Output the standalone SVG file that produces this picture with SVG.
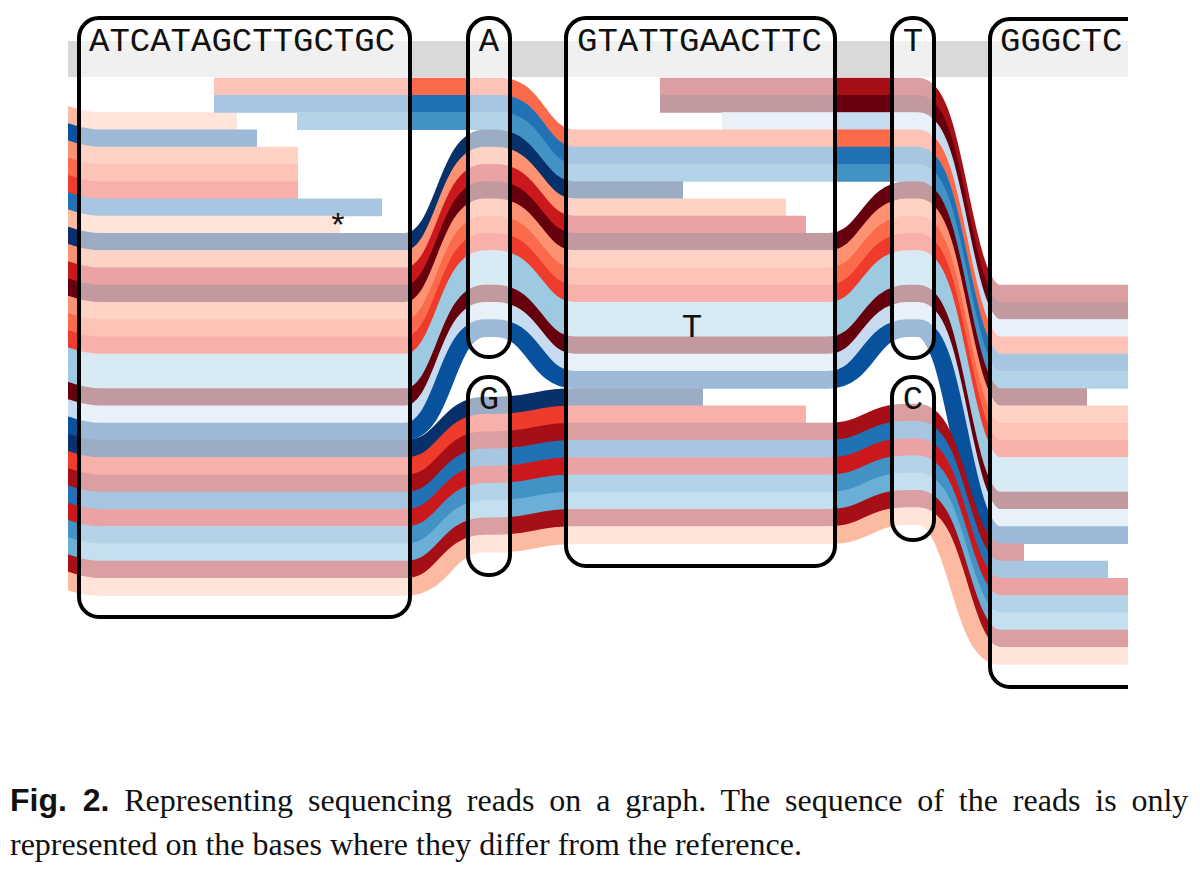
<svg xmlns="http://www.w3.org/2000/svg" width="1200" height="873" viewBox="0 0 1200 873">
<defs>
<clipPath id="clip"><rect x="68" y="0" width="1060" height="720"/></clipPath>
<style>
.r{fill:none;stroke-width:17.8;stroke-linecap:butt;stroke-linejoin:round}
.node{fill:#fff;fill-opacity:0.6;stroke:#000;stroke-width:4}
.lbl{font-family:"Liberation Mono","Courier New",monospace;font-size:34px;fill:#111}
.cap{font-family:"Liberation Serif","Times New Roman",serif;font-size:32px;fill:#111}
</style>
</defs>
<rect width="1200" height="873" fill="#fff"/>
<g clip-path="url(#clip)">
<rect x="68" y="41" width="1060" height="36" fill="#d9d9d9"/>
<g id="reads">
<path class="r" stroke="#a50f15" d="M660,86.63 L918,86.63 C958,86.63 960,293.63 1000,293.63 L1140,293.63"/>
<path class="r" stroke="#67000d" d="M660,103.88 L918,103.88 C958,103.88 960,310.88 1000,310.88 L1140,310.88"/>
<path class="r" stroke="#c6dbef" d="M722,121.13 L918,121.13 C958,121.13 960,328.13 1000,328.13 L1140,328.13"/>
<path class="r" stroke="#fcbba1" d="M40,111.13 C70,111.13 72,121.13 100,121.13 L237,121.13"/>
<path class="r" stroke="#08519c" d="M40,128.38 C70,128.38 72,138.38 100,138.38 L257,138.38"/>
<path class="r" stroke="#fc9272" d="M40,145.63 C70,145.63 72,155.63 100,155.63 L298,155.63"/>
<path class="r" stroke="#fb6a4a" d="M40,162.88 C70,162.88 72,172.88 100,172.88 L298,172.88"/>
<path class="r" stroke="#ef3b2c" d="M40,180.13 C70,180.13 72,190.13 100,190.13 L298,190.13"/>
<path class="r" stroke="#2171b5" d="M40,197.38 C70,197.38 72,207.38 100,207.38 L382,207.38"/>
<path class="r" stroke="#fcbba1" d="M40,214.63 C70,214.63 72,224.63 100,224.63 L340,224.63"/>
<path class="r" stroke="#fb6a4a" d="M214,86.63 L500,86.63 C538,86.63 538,138.38 576,138.38 L918,138.38 C958,138.38 960,345.38 1000,345.38 L1140,345.38"/>
<path class="r" stroke="#2171b5" d="M214,103.88 L500,103.88 C538,103.88 538,155.63 576,155.63 L918,155.63 C958,155.63 960,362.63 1000,362.63 L1140,362.63"/>
<path class="r" stroke="#4292c6" d="M297,121.13 L500,121.13 C538,121.13 538,172.88 576,172.88 L918,172.88 C958,172.88 960,379.88 1000,379.88 L1140,379.88"/>
<path class="r" stroke="#08306b" d="M40,231.88 C70,231.88 72,241.88 100,241.88 L405,241.88 C445,241.88 445,138.38 485,138.38 L495,138.38 C535,138.38 535,190.13 575,190.13 L683,190.13"/>
<path class="r" stroke="#fc9272" d="M40,249.13 C70,249.13 72,259.13 100,259.13 L405,259.13 C445,259.13 445,155.63 485,155.63 L495,155.63 C535,155.63 535,207.38 575,207.38 L786,207.38"/>
<path class="r" stroke="#cb181d" d="M40,266.38 C70,266.38 72,276.38 100,276.38 L405,276.38 C445,276.38 445,172.88 485,172.88 L495,172.88 C535,172.88 535,224.63 575,224.63 L806,224.63"/>
<path class="r" stroke="#67000d" d="M40,283.63 C70,283.63 72,293.63 100,293.63 L405,293.63 C445,293.63 445,190.13 485,190.13 L495,190.13 C535,190.13 535,241.88 575,241.88 L828,241.88 C868,241.88 868,190.13 908,190.13 L918,190.13 C958,190.13 960,397.13 1000,397.13 L1087,397.13"/>
<path class="r" stroke="#fc9272" d="M40,300.88 C70,300.88 72,310.88 100,310.88 L405,310.88 C445,310.88 445,207.38 485,207.38 L495,207.38 C535,207.38 535,259.13 575,259.13 L828,259.13 C868,259.13 868,207.38 908,207.38 L918,207.38 C958,207.38 960,414.38 1000,414.38 L1140,414.38"/>
<path class="r" stroke="#fb6a4a" d="M40,318.13 C70,318.13 72,328.13 100,328.13 L405,328.13 C445,328.13 445,224.63 485,224.63 L495,224.63 C535,224.63 535,276.38 575,276.38 L828,276.38 C868,276.38 868,224.63 908,224.63 L918,224.63 C958,224.63 960,431.63 1000,431.63 L1140,431.63"/>
<path class="r" stroke="#ef3b2c" d="M40,335.38 C70,335.38 72,345.38 100,345.38 L405,345.38 C445,345.38 445,241.88 485,241.88 L495,241.88 C535,241.88 535,293.63 575,293.63 L828,293.63 C868,293.63 868,241.88 908,241.88 L918,241.88 C958,241.88 960,448.88 1000,448.88 L1140,448.88"/>
<path class="r" stroke="#9ecae1" d="M40,352.63 C70,352.63 72,362.63 100,362.63 L405,362.63 C445,362.63 445,259.13 485,259.13 L495,259.13 C535,259.13 535,310.88 575,310.88 L828,310.88 C868,310.88 868,259.13 908,259.13 L918,259.13 C958,259.13 960,466.13 1000,466.13 L1140,466.13"/>
<path class="r" stroke="#9ecae1" d="M40,369.88 C70,369.88 72,379.88 100,379.88 L405,379.88 C445,379.88 445,276.38 485,276.38 L495,276.38 C535,276.38 535,328.13 575,328.13 L828,328.13 C868,328.13 868,276.38 908,276.38 L918,276.38 C958,276.38 960,483.38 1000,483.38 L1140,483.38"/>
<path class="r" stroke="#67000d" d="M40,387.13 C70,387.13 72,397.13 100,397.13 L405,397.13 C445,397.13 445,293.63 485,293.63 L495,293.63 C535,293.63 535,345.38 575,345.38 L828,345.38 C868,345.38 868,293.63 908,293.63 L918,293.63 C958,293.63 960,500.63 1000,500.63 L1140,500.63"/>
<path class="r" stroke="#c6dbef" d="M40,404.38 C70,404.38 72,414.38 100,414.38 L405,414.38 C445,414.38 445,310.88 485,310.88 L495,310.88 C535,310.88 535,362.63 575,362.63 L828,362.63 C868,362.63 868,310.88 908,310.88 L918,310.88 C958,310.88 960,517.88 1000,517.88 L1140,517.88"/>
<path class="r" stroke="#08519c" d="M40,421.63 C70,421.63 72,431.63 100,431.63 L405,431.63 C445,431.63 445,328.13 485,328.13 L495,328.13 C535,328.13 535,379.88 575,379.88 L828,379.88 C868,379.88 868,328.13 908,328.13 L918,328.13 C958,328.13 960,535.13 1000,535.13 L1140,535.13"/>
<path class="r" stroke="#08306b" d="M40,438.88 C70,438.88 72,448.88 100,448.88 L405,448.88 C445,448.88 445,405.63 485,405.63 L495,405.63 C535,405.63 535,397.13 575,397.13 L703,397.13"/>
<path class="r" stroke="#ef3b2c" d="M40,456.13 C70,456.13 72,466.13 100,466.13 L405,466.13 C445,466.13 445,422.88 485,422.88 L495,422.88 C535,422.88 535,414.38 575,414.38 L806,414.38"/>
<path class="r" stroke="#a50f15" d="M40,473.38 C70,473.38 72,483.38 100,483.38 L405,483.38 C445,483.38 445,440.13 485,440.13 L495,440.13 C535,440.13 535,431.63 575,431.63 L828,431.63 C868,431.63 868,412.63 908,412.63 L918,412.63 C958,412.63 960,552.38 1000,552.38 L1024,552.38"/>
<path class="r" stroke="#2171b5" d="M40,490.63 C70,490.63 72,500.63 100,500.63 L405,500.63 C445,500.63 445,457.38 485,457.38 L495,457.38 C535,457.38 535,448.88 575,448.88 L828,448.88 C868,448.88 868,429.88 908,429.88 L918,429.88 C958,429.88 960,569.63 1000,569.63 L1108,569.63"/>
<path class="r" stroke="#cb181d" d="M40,507.88 C70,507.88 72,517.88 100,517.88 L405,517.88 C445,517.88 445,474.63 485,474.63 L495,474.63 C535,474.63 535,466.13 575,466.13 L828,466.13 C868,466.13 868,447.13 908,447.13 L918,447.13 C958,447.13 960,586.88 1000,586.88 L1140,586.88"/>
<path class="r" stroke="#4292c6" d="M40,525.13 C70,525.13 72,535.13 100,535.13 L405,535.13 C445,535.13 445,491.88 485,491.88 L495,491.88 C535,491.88 535,483.38 575,483.38 L828,483.38 C868,483.38 868,464.38 908,464.38 L918,464.38 C958,464.38 960,604.13 1000,604.13 L1140,604.13"/>
<path class="r" stroke="#6baed6" d="M40,542.38 C70,542.38 72,552.38 100,552.38 L405,552.38 C445,552.38 445,509.13 485,509.13 L495,509.13 C535,509.13 535,500.63 575,500.63 L828,500.63 C868,500.63 868,481.63 908,481.63 L918,481.63 C958,481.63 960,621.38 1000,621.38 L1140,621.38"/>
<path class="r" stroke="#a50f15" d="M40,559.63 C70,559.63 72,569.63 100,569.63 L405,569.63 C445,569.63 445,526.38 485,526.38 L495,526.38 C535,526.38 535,517.88 575,517.88 L828,517.88 C868,517.88 868,498.88 908,498.88 L918,498.88 C958,498.88 960,638.63 1000,638.63 L1140,638.63"/>
<path class="r" stroke="#fcbba1" d="M40,576.88 C70,576.88 72,586.88 100,586.88 L405,586.88 C445,586.88 445,543.63 485,543.63 L495,543.63 C535,543.63 535,535.13 575,535.13 L828,535.13 C868,535.13 868,516.13 908,516.13 L918,516.13 C958,516.13 960,655.88 1000,655.88 L1140,655.88"/>
</g>
<g id="node1"><rect class="node" x="79" y="18" width="331" height="599" rx="20"/><text class="lbl" x="89" y="51">ATCATAGCTTGCTGC</text><text class="lbl" x="338" y="237" text-anchor="middle" font-size="28">*</text></g>
<g id="nodeA"><rect class="node" x="468" y="18" width="42" height="339" rx="20"/><text class="lbl" x="489" y="51" text-anchor="middle">A</text></g>
<g id="nodeG"><rect class="node" x="468" y="377" width="42" height="198" rx="20"/><text class="lbl" x="489" y="409" text-anchor="middle">G</text></g>
<g id="node3"><rect class="node" x="566" y="18" width="269" height="548" rx="20"/><text class="lbl" x="577" y="51">GTATTGAACTTC</text><text class="lbl" x="692" y="337" text-anchor="middle" font-size="28">T</text></g>
<g id="nodeT"><rect class="node" x="892" y="18" width="42" height="340" rx="20"/><text class="lbl" x="913" y="51" text-anchor="middle">T</text></g>
<g id="nodeC"><rect class="node" x="892" y="377" width="42" height="163" rx="20"/><text class="lbl" x="913" y="409" text-anchor="middle">C</text></g>
<g id="node5"><rect class="node" x="990" y="19" width="200" height="668" rx="20"/><text class="lbl" x="1000" y="51">GGGCTC.</text></g>
</g>
<g id="caption">
<text class="cap" x="10" y="811" word-spacing="6.9"><tspan font-family="'Liberation Sans',Arial,sans-serif" font-weight="bold">Fig. 2.</tspan> Representing sequencing reads on a graph. The sequence of the reads is only</text>
<text class="cap" x="10" y="855">represented on the bases where they differ from the reference.</text>
</g>
</svg>
